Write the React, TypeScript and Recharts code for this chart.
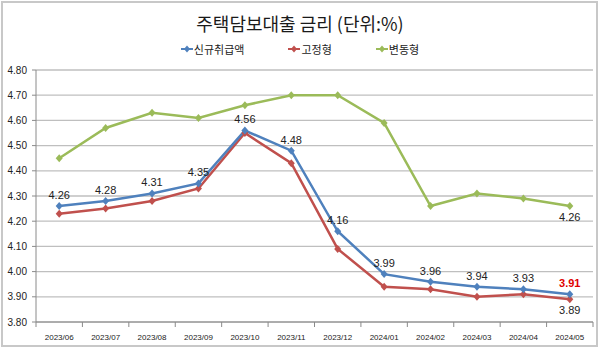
import React from 'react';
import { LineChart, Line, XAxis, YAxis, CartesianGrid, LabelList } from 'recharts';

const months = ['2023/06', '2023/07', '2023/08', '2023/09', '2023/10', '2023/11', '2023/12', '2024/01', '2024/02', '2024/03', '2024/04', '2024/05'];
const newLoans = [4.26, 4.28, 4.31, 4.35, 4.56, 4.48, 4.16, 3.99, 3.96, 3.94, 3.93, 3.91];
const fixedRate = [4.23, 4.25, 4.28, 4.33, 4.55, 4.43, 4.09, 3.94, 3.93, 3.90, 3.91, 3.89];
const variableRate = [4.45, 4.57, 4.63, 4.61, 4.66, 4.70, 4.70, 4.59, 4.26, 4.31, 4.29, 4.26];
const yTicks = [3.8, 3.9, 4.0, 4.1, 4.2, 4.3, 4.4, 4.5, 4.6, 4.7, 4.8];

const seriesNames = ['신규취급액', '고정형', '변동형'];
const colors = ['#4f81bd', '#c0504d', '#9bbb59'];

const data = months.map((month, i) => ({
  month,
  newLoans: newLoans[i],
  fixedRate: fixedRate[i],
  variableRate: variableRate[i],
}));

const W = 600;
const H = 350;
const margin = { top: 70, right: 7, bottom: 0, left: 0 };
const yAxisWidth = 36;
const plotWidth = W - margin.left - margin.right - yAxisWidth;
const half = plotWidth / months.length / 2;

const latin = '"Liberation Sans", Arial, "Noto Sans CJK KR", sans-serif';
const korean = '"Noto Sans CJK KR", "Liberation Sans", sans-serif';

const diamond = (color: string) => (props: any) => {
  const { cx, cy } = props;
  if (cx == null || cy == null) return null;
  return (
    <path
      key={`d-${cx}-${cy}`}
      d={`M${cx},${cy - 4} L${cx + 3.5},${cy} L${cx},${cy + 4} L${cx - 3.5},${cy} Z`}
      fill={color}
    />
  );
};

const XTick = (props: any) => {
  const { x, y, payload, index } = props;
  const last = index === months.length - 1;
  return (
    <g>
      <line x1={x - half} x2={x - half} y1={y} y2={y + 5} stroke="#8a8a8a" />
      {last && <line x1={x + half} x2={x + half} y1={y} y2={y + 5} stroke="#8a8a8a" />}
      <text x={x} y={y + 18} textAnchor="middle" fontSize={8} fill="#222" fontFamily={latin}>
        {payload.value}
      </text>
    </g>
  );
};

const topLabel = (props: any) => {
  const { x, y, value, index } = props;
  const last = index === months.length - 1;
  return (
    <text
      x={x}
      y={y - 7}
      textAnchor="middle"
      fontSize={11}
      fontFamily={latin}
      fontWeight={last ? 'bold' : 'normal'}
      fill={last ? '#e00000' : '#222'}
    >
      {Number(value).toFixed(2)}
    </text>
  );
};

const lastBelowLabel = (props: any) => {
  const { x, y, value, index } = props;
  if (index !== months.length - 1) return null;
  return (
    <text x={x} y={y + 15} textAnchor="middle" fontSize={11} fontFamily={latin} fill="#222">
      {Number(value).toFixed(2)}
    </text>
  );
};

const LegendRow = () => (
  <div
    style={{
      position: 'absolute',
      left: 0,
      top: 43,
      width: W,
      display: 'flex',
      justifyContent: 'center',
      gap: 44,
      fontFamily: korean,
      fontSize: 11,
      lineHeight: '12px',
      color: '#222',
    }}
  >
    {seriesNames.map((name, i) => (
      <div key={name} style={{ display: 'flex', alignItems: 'center' }}>
        <svg width={12} height={10} style={{ marginRight: 1 }}>
          <line x1={0} x2={12} y1={5} y2={5} stroke={colors[i]} strokeWidth={2} />
          <path d="M6,1.5 L9,5 L6,8.5 L3,5 Z" fill={colors[i]} />
        </svg>
        <span>{name}</span>
      </div>
    ))}
  </div>
);

export default function App() {
  return (
    <div style={{ position: 'fixed', left: 0, top: 0, width: W, height: H, background: '#fff' }}>
      <div
        style={{
          position: 'absolute',
          left: 1,
          top: 1,
          width: 597,
          height: 346,
          boxSizing: 'border-box',
          border: '2px solid #c8c8c8',
        }}
      />
      <svg width={W} height={40} style={{ position: 'absolute', left: 0, top: 0 }}>
        <text x={300} y={31} textAnchor="middle" fontSize={18} fontFamily={korean} fill="#1a1a1a">
          주택담보대출 금리 (단위:%)
        </text>
      </svg>
      <LegendRow />
      <div style={{ position: 'absolute', left: 0, top: 0 }}>
        <LineChart width={W} height={H} data={data} margin={margin}>
          <CartesianGrid vertical={false} stroke="#bfbfbf" strokeWidth={1.3} />
          <XAxis
            dataKey="month"
            height={28}
            tickSize={0}
            tickMargin={0}
            tick={<XTick />}
            interval={0}
            padding={{ left: half, right: half }}
            axisLine={{ stroke: '#8a8a8a' }}
          />
          <YAxis
            width={yAxisWidth}
            domain={[3.8, 4.8]}
            ticks={yTicks}
            tickSize={4}
            tickMargin={5}
            tickLine={{ stroke: '#8a8a8a' }}
            axisLine={{ stroke: '#8a8a8a' }}
            tickFormatter={(v: number) => v.toFixed(2)}
            tick={{ fontSize: 10, fill: '#222', fontFamily: latin }}
            allowDataOverflow
          />
          <Line
            type="linear"
            dataKey="variableRate"
            name={seriesNames[2]}
            stroke={colors[2]}
            strokeWidth={2.5}
            dot={diamond(colors[2])}
            activeDot={false}
            isAnimationActive={false}
          >
            <LabelList dataKey="variableRate" content={lastBelowLabel} />
          </Line>
          <Line
            type="linear"
            dataKey="fixedRate"
            name={seriesNames[1]}
            stroke={colors[1]}
            strokeWidth={2.5}
            dot={diamond(colors[1])}
            activeDot={false}
            isAnimationActive={false}
          >
            <LabelList dataKey="fixedRate" content={lastBelowLabel} />
          </Line>
          <Line
            type="linear"
            dataKey="newLoans"
            name={seriesNames[0]}
            stroke={colors[0]}
            strokeWidth={2.5}
            dot={diamond(colors[0])}
            activeDot={false}
            isAnimationActive={false}
          >
            <LabelList dataKey="newLoans" content={topLabel} />
          </Line>
        </LineChart>
      </div>
    </div>
  );
}
